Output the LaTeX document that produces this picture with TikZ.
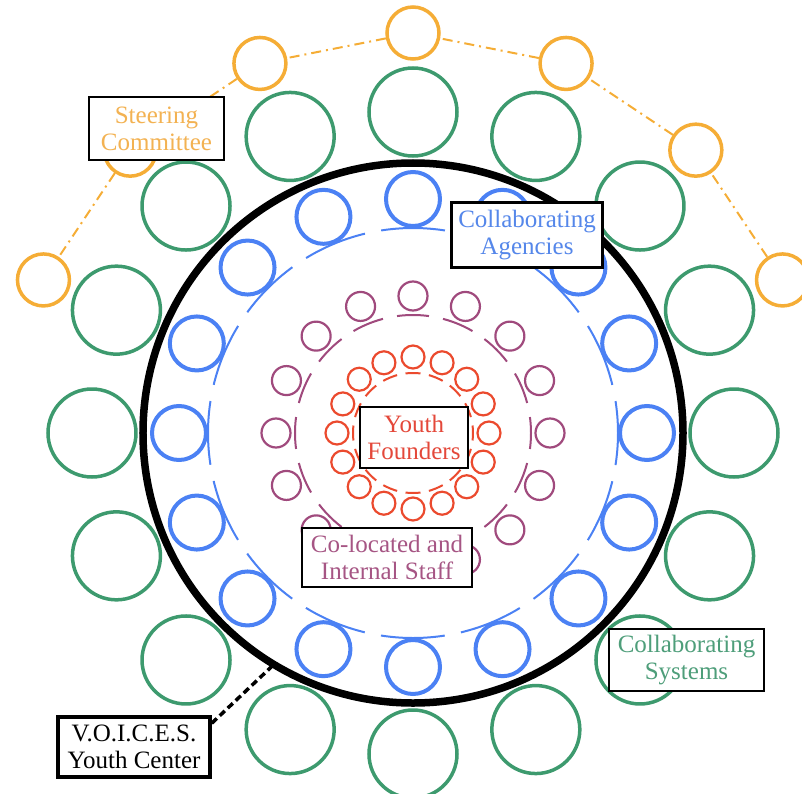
\documentclass[tikz,border=0pt]{standalone}
\usepackage{fontspec}
\setmainfont{Liberation Serif}
\definecolor{orangeC}{HTML}{F5AD36}
\definecolor{orangeT}{HTML}{F3B252}
\definecolor{greenC}{HTML}{3D9A6E}
\definecolor{greenT}{HTML}{4E9E7A}
\definecolor{blueC}{HTML}{4B81F4}
\definecolor{blueT}{HTML}{5587EA}
\definecolor{purpleC}{HTML}{A04A7D}
\definecolor{purpleT}{HTML}{A65584}
\definecolor{redC}{HTML}{EB4A2E}
\definecolor{redT}{HTML}{E4483A}
\begin{document}
\begin{tikzpicture}[x=1pt,y=1pt,
  hd/.style={circle, inner sep=0pt, fill=none},
  redhead/.style={hd, draw=redC, line width=2.2pt, minimum size=23pt},
  purphead/.style={hd, draw=purpleC, line width=2.2pt, minimum size=29pt},
  bluehead/.style={hd, draw=blueC, line width=4pt, minimum size=54pt},
  greenhead/.style={hd, draw=greenC, line width=3.5pt, minimum size=88pt},
  orangehead/.style={hd, draw=orangeC, line width=3.5pt, minimum size=52pt},
  ringline/.style={line width=2pt},
  linkline/.style={draw=orangeC, line width=2pt, dash pattern=on 10pt off 5pt on 2pt off 5pt},
  lbl/.style={draw=black, line width=2.5pt, fill=white, align=center, inner sep=0pt,
              font=\fontsize{25}{27}\selectfont}
]
\useasboundingbox (-413,-360) rectangle (389,433);

% dashed rings
\draw[ringline, redC, dash pattern=on 15pt off 8.56pt, dash phase=7.5pt] (0,0) circle (60);
\draw[ringline, purpleC, dash pattern=on 32pt off 14.34pt, dash phase=16pt] (0,0) circle (118);
\draw[ringline, blueC, dash pattern=on 64pt off 16.5pt, dash phase=32pt] (0,0) circle (205);

% heads
\foreach \k in {0,...,15} {
  \node[redhead]  (r\k) at ({90+22.5*\k}:76) {};
  \node[purphead] (p\k) at ({90+22.5*\k}:137) {};
  \node[bluehead] (b\k) at ({90+22.5*\k}:234) {};
}

% youth center ring
\node[circle, draw=black, line width=7.5pt, minimum size=540pt, inner sep=0pt, outer sep=0pt] (ring) at (0,0) {};

% collaborating systems
\foreach \k in {0,...,15} {
  \node[greenhead] (g\k) at ({90+22.5*\k}:321) {};
}

% steering committee
\foreach \k in {0,...,6} {
  \node[orangehead] (o\k) at ({22.5+22.5*\k}:400) {};
}
\foreach \a/\b in {0/1,1/2,2/3,3/4,4/5,5/6} {
  \draw[linkline] (o\a) -- (o\b);
}

% labels
\node[lbl, text=orangeT, minimum width=135pt, minimum height=63pt] (steer) at (-256.5,304.5) {Steering\\Committee};
\node[lbl, text=blueT, minimum width=151pt, minimum height=65pt] (agen) at (114,198) {Collaborating\\Agencies};
\node[lbl, text=redT, minimum width=108pt, minimum height=61pt] (found) at (1,-4.5) {Youth\\Founders};
\node[lbl, text=purpleT, minimum width=170pt, minimum height=59pt] (staff) at (-26,-124.5) {Co-located and\\Internal Staff};
\node[lbl, text=greenT, minimum width=155pt, minimum height=62pt] (sys) at (273.5,-227) {Collaborating\\Systems};
\node[lbl, text=black, line width=3.5pt, minimum width=152pt, minimum height=60pt] (voices) at (-279,-314) {V.O.I.C.E.S.\\Youth Center};

\draw[line width=3.5pt, dash pattern=on 7pt off 4pt] ([yshift=-8pt]voices.north east) -- (ring.239);
\end{tikzpicture}
\end{document}
